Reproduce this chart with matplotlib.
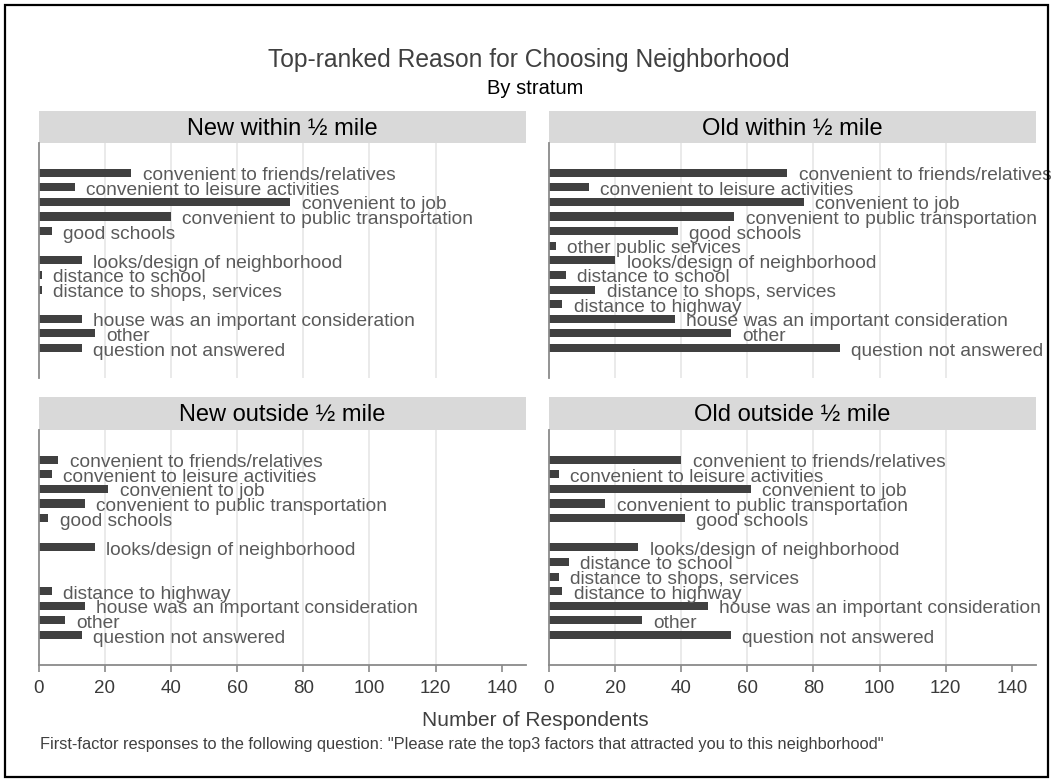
import numpy as np
import matplotlib
matplotlib.use("Agg")
import matplotlib.pyplot as plt
from matplotlib.patches import Rectangle

plt.rcParams['font.family'] = ['Liberation Sans', 'DejaVu Sans']

categories = ["convenient to friends/relatives", "convenient to leisure activities",
              "convenient to job", "convenient to public transportation", "good schools",
              "other public services", "looks/design of neighborhood", "distance to school",
              "distance to shops, services", "distance to highway",
              "house was an important consideration", "other", "question not answered"]

panels = ["New within \u00bd mile", "Old within \u00bd mile",
          "New outside \u00bd mile", "Old outside \u00bd mile"]

nan = np.nan
new_within = [28, 11, 76, 40, 4, nan, 13, 1, 1, nan, 13, 17, 13]
old_within = [72, 12, 77, 56, 39, 2, 20, 5, 14, 4, 38, 55, 88]
new_outside = [6, 4, 21, 14, 3, nan, 17, nan, nan, 4, 14, 8, 13]
old_outside = [40, 3, 61, 17, 41, nan, 27, 6, 3, 4, 48, 28, 55]
series = [new_within, old_within, new_outside, old_outside]

xticks = [0, 20, 40, 60, 80, 100, 120, 140]
title = "Top-ranked Reason for Choosing Neighborhood"
subtitle = "By stratum"
xlabel = "Number of Respondents"
caption = ('First-factor responses to the following question: "Please rate the top3 factors '
           'that attracted you to this neighborhood"')

W, H = 1055, 780
fig = plt.figure(figsize=(W / 100, H / 100), dpi=100)
fig.patch.set_facecolor('white')

def fx(px):
    return px / W

def fy(py):
    return 1 - py / H

# panel geometry in pixels: (left, right, strip_top, plot_top, plot_bottom)
geoms = [(38.5, 526, 111, 143, 378), (549, 1036, 111, 143, 378),
         (38.5, 526, 397, 430, 665), (549, 1036, 397, 430, 665)]

BAR = '#404040'
LAB = '#5a5a5a'
AXC = '#8a8a8a'
GRID = '#e6e6e6'
STRIP = '#d9d9d9'

ypos = np.arange(len(categories))
for i, (name, vals, g) in enumerate(zip(panels, series, geoms)):
    l, r, st, pt, pb = g
    # strip
    sax = fig.add_axes([fx(l), fy(pt), fx(r - l), (pt - st) / H])
    sax.set_facecolor(STRIP)
    for s in sax.spines.values():
        s.set_visible(False)
    sax.set_xticks([]); sax.set_yticks([])
    sax.text(0.5, 0.45, name, ha='center', va='center', fontsize=17, color='black',
             transform=sax.transAxes)

    ax = fig.add_axes([fx(l), fy(pb), fx(r - l), (pb - pt) / H])
    ax.set_xlim(0, 147.3)
    ax.set_ylim(len(categories) - 1 + 2.05, -2.03)
    for gx in xticks[1:-1]:
        ax.axvline(gx, color=GRID, lw=1.2, zorder=0)
    v = np.array(vals, dtype=float)
    mask = ~np.isnan(v)
    ax.barh(ypos[mask], v[mask], height=0.55, color=BAR, zorder=2)
    for y, val, cat in zip(ypos, v, categories):
        if np.isnan(val):
            continue
        ax.annotate(cat, xy=(val, y), xytext=(8.3, -5.4), textcoords='offset points',
                    ha='left', va='baseline', fontsize=13.8, color=LAB, zorder=3,
                    annotation_clip=False)
    for s in ['top', 'right']:
        ax.spines[s].set_visible(False)
    ax.spines['left'].set_color(AXC)
    ax.spines['left'].set_linewidth(1.3)
    ax.set_yticks([])
    ax.set_facecolor('none')
    if i >= 2:
        ax.spines['bottom'].set_color(AXC)
        ax.spines['bottom'].set_linewidth(1.3)
        ax.set_xticks(xticks)
        ax.set_xticklabels([str(t) for t in xticks])
        ax.tick_params(axis='x', colors=AXC, length=5, width=1.2, labelsize=13.5,
                       labelcolor='#3a3a3a', pad=6)
    else:
        ax.spines['bottom'].set_visible(False)
        ax.set_xticks([])

fig.text(fx(529), fy(60), title, ha='center', va='center', fontsize=17.7, color='#404040')
fig.text(fx(535), fy(88), subtitle, ha='center', va='center', fontsize=14.5, color='black')
fig.text(fx(535), fy(720), xlabel, ha='center', va='center', fontsize=15, color='#404040')
fig.text(fx(40), fy(745), caption, ha='left', va='center', fontsize=11.8, color='#404040')

fig.add_artist(Rectangle((fx(5), fy(777)), fx(1043), (772) / H, transform=fig.transFigure,
                         fill=False, edgecolor='black', lw=1.6))

fig.savefig('out.png', dpi=100, facecolor='white')
